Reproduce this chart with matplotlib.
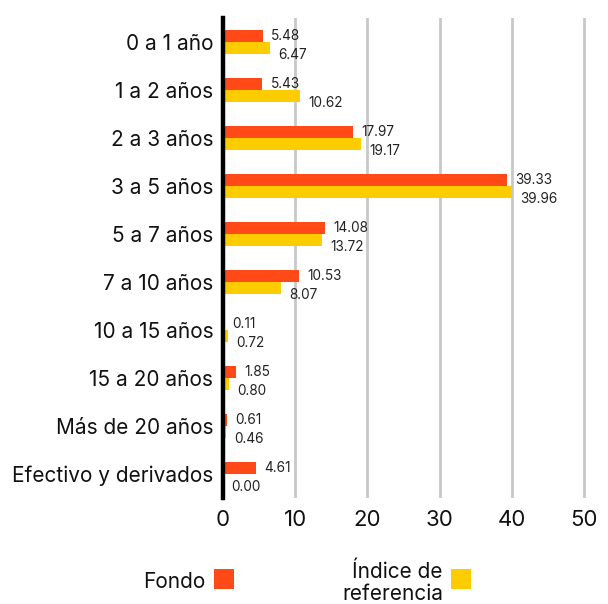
import matplotlib
matplotlib.use("Agg")
import matplotlib.pyplot as plt
from matplotlib.patches import Rectangle
import numpy as np

plt.rcParams['font.family'] = ['Inter', 'DejaVu Sans']

categories = ["0 a 1 año", "1 a 2 años", "2 a 3 años", "3 a 5 años", "5 a 7 años",
              "7 a 10 años", "10 a 15 años", "15 a 20 años", "Más de 20 años",
              "Efectivo y derivados"]
fondo = [5.48, 5.43, 17.97, 39.33, 14.08, 10.53, 0.11, 1.85, 0.61, 4.61]
indice = [6.47, 10.62, 19.17, 39.96, 13.72, 8.07, 0.72, 0.80, 0.46, 0.00]
xticks = [0, 10, 20, 30, 40, 50]
legend_labels = ["Fondo", "Índice de\nreferencia"]

c_fondo = "#FF4A17"
c_ind = "#FFCC00"

W, H = 608, 604
fig = plt.figure(figsize=(W/100, H/100), dpi=100)
left, right, top, bottom = 223, 588, 18, 498
ax = fig.add_axes([left/W, 1-bottom/H, (right-left)/W, (bottom-top)/H])

y = np.arange(len(categories))
bh = 0.25
ax.barh(y - bh/2, fondo, height=bh, color=c_fondo, zorder=3)
ax.barh(y + bh/2, indice, height=bh, color=c_ind, zorder=3)
for yi, v in zip(y, fondo):
    ax.annotate(f"{v:.2f}", (v, yi - bh/2 + 0.0), xytext=(6, 0), textcoords="offset points",
                ha="left", va="center", fontsize=9.8, color="#222222")
for yi, v in zip(y, indice):
    ax.annotate(f"{v:.2f}", (v, yi + bh/2 + 0.14), xytext=(6, 0), textcoords="offset points",
                ha="left", va="center", fontsize=9.8, color="#222222")

ax.set_ylim(len(categories) - 0.5, -0.5)
ax.set_xlim(0, 50.55)
ax.set_yticks(y)
ax.set_yticklabels(categories, fontsize=15, color="#111111")
ax.set_xticks(xticks)
ax.set_xticklabels([str(t) for t in xticks], fontsize=16, color="#111111")
ax.tick_params(axis="both", length=0)
ax.tick_params(axis="y", pad=7)
ax.tick_params(axis="x", pad=9)
for s in ["top", "right", "bottom"]:
    ax.spines[s].set_visible(False)
ax.spines["left"].set_linewidth(3.2)
ax.spines["left"].set_color("black")
ax.spines["left"].set_zorder(5)
for t in xticks[1:]:
    ax.axvline(t, color="#c8c8c8", linewidth=2, zorder=1)

# legend
fig.text(205/W, 1-582/H, legend_labels[0], ha="right", va="center", fontsize=15, color="#111111")
fig.patches.append(Rectangle((214/W, 1-589/H), 20/W, 20/H, transform=fig.transFigure,
                             facecolor=c_fondo, edgecolor="none"))
fig.text(443/W, 1-583/H, legend_labels[1], ha="right", va="center", fontsize=15,
         color="#111111", multialignment="right", linespacing=1.12)
fig.patches.append(Rectangle((451/W, 1-589/H), 20/W, 20/H, transform=fig.transFigure,
                             facecolor=c_ind, edgecolor="none"))

fig.savefig("out.png", dpi=100)
